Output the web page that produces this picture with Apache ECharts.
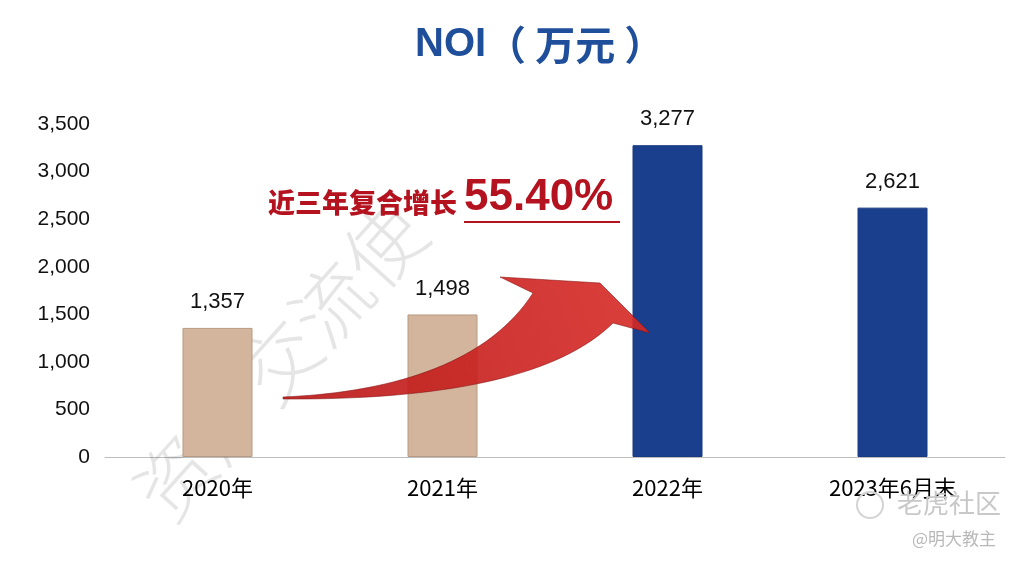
<!DOCTYPE html>
<html>
<head>
<meta charset="utf-8">
<title>NOI</title>
<script src="https://cdn.jsdelivr.net/npm/echarts@6/dist/echarts.min.js"></script>
<style>
  html, body { margin: 0; padding: 0; background: #fff; }
  #main { width: 1018px; height: 562px; }
</style>
</head>
<body>
<div id="main"></div>
<script>
var categories = ["2020年", "2021年", "2022年", "2023年6月末"];
var noiValues = [1357, 1498, 3277, 2621];
var barColors = ["#d3b49c", "#d3b49c", "#1a3f8c", "#1a3f8c"];
var yTicks = [0, 500, 1000, 1500, 2000, 2500, 3000, 3500];

// curved growth arrow (decoration, pixel path)
var ArrowShape = echarts.graphic.extendPath(
  "M 283 397 C 400 392 490 360 533 293 L 500 277 L 600 283 L 650 333 L 613 323 C 560 375 450 400 283 399 Z",
  {}
);
echarts.graphic.registerShape("growthArrow", ArrowShape);

var myChart = echarts.init(document.getElementById("main"));

myChart.setOption({
  backgroundColor: "#fff",
  animation: false,
  title: {
    text: "{a|NOI}{b|（ 万元 ）}",
    left: 410,
    top: 20,
    textStyle: {
      rich: {
        a: {
          color: "#1f4e9a",
          fontSize: 40,
          fontWeight: "bold",
          fontFamily: "Liberation Sans, sans-serif"
        },
        b: {
          color: "#1f4e9a",
          fontSize: 40,
          fontWeight: "bold",
          fontFamily: "Noto Sans CJK SC, sans-serif"
        }
      }
    }
  },
  grid: {
    left: 105,
    right: 13,
    top: 124,
    bottom: 105
  },
  xAxis: {
    type: "category",
    data: categories,
    axisLine: { show: true, lineStyle: { color: "#bdbdbd", width: 1 } },
    axisTick: { show: false },
    axisLabel: {
      color: "#000",
      fontSize: 22,
      margin: 20,
      fontFamily: "Liberation Sans Narrow, Noto Sans CJK SC, sans-serif"
    }
  },
  yAxis: {
    type: "value",
    min: yTicks[0],
    max: yTicks[yTicks.length - 1],
    interval: 500,
    axisLine: { show: false },
    axisTick: { show: false },
    splitLine: { show: false },
    axisLabel: {
      color: "#111",
      fontSize: 21,
      margin: 15,
      fontFamily: "Liberation Sans, sans-serif",
      formatter: function (v) { return v.toLocaleString("en-US"); }
    }
  },
  series: [
    {
      name: "NOI",
      type: "bar",
      barWidth: 70,
      z: 2,
      data: noiValues.map(function (v, i) {
        return {
          value: v,
          itemStyle: {
            color: barColors[i],
            borderColor: i < 2 ? "#b89a82" : "#183a80",
            borderWidth: 1
          }
        };
      }),
      label: {
        show: true,
        position: "top",
        distance: 15,
        color: "#111",
        fontSize: 22,
        fontFamily: "Liberation Sans, sans-serif",
        formatter: function (p) { return p.value.toLocaleString("en-US"); }
      }
    }
  ],
  graphic: [
    // faint handwritten watermark
    {
      type: "text",
      x: 120,
      y: 480,
      rotation: 48 * Math.PI / 180,
      z: 1,
      style: {
        text: "资产交流使",
        fill: "rgba(0,0,0,0.10)",
        font: "300 78px 'Noto Sans CJK SC', sans-serif"
      }
    },
    {
      type: "growthArrow",
      z: 10,
      style: {
        fill: {
          type: "linear", x: 0, y: 1, x2: 1, y2: 0,
          colorStops: [
            { offset: 0, color: "#b81414" },
            { offset: 1, color: "#d82a26" }
          ]
        },
        opacity: 0.9,
        stroke: "rgba(130,15,15,0.6)",
        lineWidth: 1
      }
    },
    {
      type: "text",
      x: 268,
      y: 189,
      z: 11,
      style: {
        text: "近三年复合增长",
        fill: "#b3121e",
        font: "900 27px 'Noto Sans CJK SC', sans-serif",
        shadowColor: "rgba(0,0,0,0.35)",
        shadowBlur: 2,
        shadowOffsetX: 1,
        shadowOffsetY: 1
      }
    },
    {
      type: "text",
      x: 464,
      y: 176,
      z: 11,
      style: {
        text: "55.40%",
        fill: "#b3121e",
        font: "bold 44px 'Liberation Sans', sans-serif",
        shadowColor: "rgba(0,0,0,0.35)",
        shadowBlur: 2,
        shadowOffsetX: 1,
        shadowOffsetY: 1
      }
    },
    {
      type: "line",
      z: 11,
      shape: { x1: 464, y1: 222, x2: 620, y2: 222 },
      style: { stroke: "#b3121e", lineWidth: 2 }
    },
    // platform watermarks
    {
      type: "circle",
      z: 11,
      shape: { cx: 870, cy: 505, r: 13 },
      style: { fill: "none", stroke: "#d4d4d4", lineWidth: 2 }
    },
    {
      type: "text",
      x: 897,
      y: 490,
      z: 11,
      style: {
        text: "老虎社区",
        fill: "#c8c8c8",
        font: "26px 'Noto Sans CJK SC', sans-serif"
      }
    },
    {
      type: "text",
      x: 912,
      y: 530,
      z: 11,
      style: {
        text: "@明大教主",
        fill: "#b8b8b8",
        font: "17px 'Noto Sans CJK SC', sans-serif"
      }
    }
  ]
});

window.addEventListener("resize", function () { myChart.resize(); });
</script>
</body>
</html>
